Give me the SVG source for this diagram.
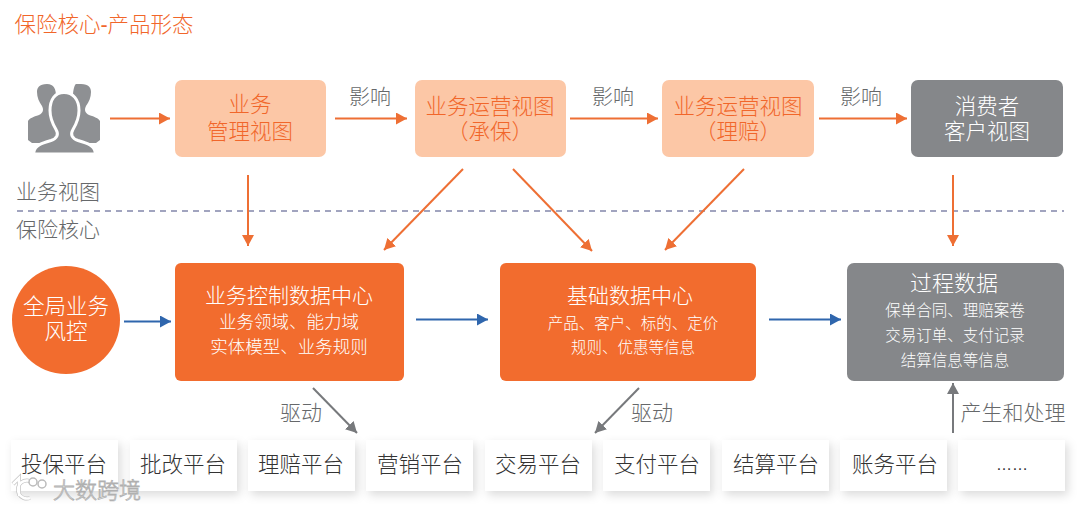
<svg xmlns="http://www.w3.org/2000/svg" width="1080" height="510" viewBox="0 0 1080 510">
<style>
text{font-family:"Liberation Sans","Noto Sans CJK SC",sans-serif;text-anchor:middle;font-weight:300}
.o{fill:#f1662a}.w{fill:#fff}.g{fill:#66686a}.d{fill:#333}
.l{stroke-width:2;fill:none}
.or{stroke:#ee6f34;marker-end:url(#ao)}.bl{stroke:#2f66ad;marker-end:url(#ab)}.gr{stroke:#77797c;marker-end:url(#ag)}
.t{fill:#fff;filter:url(#s)}
</style>
<defs>
<marker id="ao" markerUnits="userSpaceOnUse" markerWidth="12" markerHeight="12" refX="11" refY="6" orient="auto"><path d="M0 0L11 6L0 12Z" fill="#ee6f34"/></marker>
<marker id="ab" markerUnits="userSpaceOnUse" markerWidth="12" markerHeight="12" refX="11" refY="6" orient="auto"><path d="M0 0L11 6L0 12Z" fill="#2f66ad"/></marker>
<marker id="ag" markerUnits="userSpaceOnUse" markerWidth="12" markerHeight="12" refX="11" refY="6" orient="auto"><path d="M0 0L11 6L0 12Z" fill="#77797c"/></marker>
<filter id="s" x="-20%" y="-20%" width="150%" height="150%"><feDropShadow dx="3" dy="4" stdDeviation="5" flood-color="#000" flood-opacity=".14"/></filter>
</defs>
<rect width="1080" height="510" fill="#fff"/>
<text x="104" y="32" font-size="21.500" class="o">保险核心-产品形态</text>
<line x1="17" y1="211" x2="1064" y2="211" stroke="#8387aa" stroke-width="1.600" stroke-dasharray="6 5"/>
<text x="58" y="199" font-size="21" class="g">业务视图</text>
<text x="58" y="237" font-size="21" class="g">保险核心</text>

<g id="connectors">
<path class="l or" d="M110 118.500H170"/>
<path class="l or" d="M335 118.500H407"/>
<path class="l or" d="M570 118.500H658"/>
<path class="l or" d="M819 118.500H907"/>
<path class="l or" d="M248 175V246"/>
<path class="l or" d="M463 169L384 250"/>
<path class="l or" d="M513 169L592 251"/>
<path class="l or" d="M744 169L665 250"/>
<path class="l or" d="M953 175V246"/>
<path class="l bl" d="M124 321.500H171"/>
<path class="l bl" d="M416 319.500H488"/>
<path class="l bl" d="M769 319.500H841"/>
<path class="l gr" d="M313 388L357 433"/>
<path class="l gr" d="M639 388L595 433"/>
<path class="l gr" d="M953 433V383"/>
</g>
<g font-size="21" class="g">
<text x="370" y="104">影响</text><text x="613" y="104">影响</text><text x="861" y="104">影响</text>
<text x="301" y="420">驱动</text><text x="652" y="420">驱动</text><text x="1013" y="420">产生和处理</text>
</g>

<g id="users" fill="#8e9093">
<path d="M47 84c7 0 9 5 9 12c0 8-2 13-5 17c-2 4-1 8 3 10l9 4v16H32l-4-3v-19c2-3 5-4 11-6c4-2 5-5 3-9c-3-4-5-9-5-14c0-4 2-8 10-8Z"/>
<path d="M81 84c8 0 10 4 10 8c0 5-2 10-5 14c-2 4-1 7 3 9c6 2 9 3 11 6v19l-4 3H66v-16l9-4c4-2 5-6 3-10c-3-4-5-9-5-17c0-7 2-12 3-12Z"/>
<path stroke="#fff" stroke-width="3" d="M64 92.500c9 0 15 7 15 18c0 8-3 14-6 19c-3 5-1 9 5 11c10 3 16 5 17 11l1 2.500H33l1-2.500c1-6 7-8 17-11c6-2 8-6 5-11c-3-5-6-11-6-19c0-11 5-18 14-18Z"/>
</g>
<g id="biz-view"><rect x="175" y="80" width="151" height="77" rx="7" fill="#fcc7a6"/><text x="250" y="112" font-size="21.500" class="o">业务</text><text x="250" y="139" font-size="21.500" class="o">管理视图</text></g>
<g id="ops-uw"><rect x="415" y="80" width="151" height="77" rx="7" fill="#fcc7a6"/><text x="490" y="114" font-size="21.500" class="o">业务运营视图</text><text x="490" y="139" font-size="21.500" class="o">（承保）</text></g>
<g id="ops-claim"><rect x="662" y="80" width="152" height="77" rx="7" fill="#fcc7a6"/><text x="738" y="114" font-size="21.500" class="o">业务运营视图</text><text x="738" y="139" font-size="21.500" class="o">（理赔）</text></g>
<g id="consumer"><rect x="911" y="80" width="152" height="77" rx="7" fill="#85878a"/><text x="987" y="114" font-size="21.500" class="w">消费者</text><text x="987" y="139" font-size="21.500" class="w">客户视图</text></g>

<g id="risk"><circle cx="66" cy="320" r="54" fill="#f26c2e"/><text x="66" y="314" font-size="21.500" class="w">全局业务</text><text x="66" y="339" font-size="21.500" class="w">风控</text></g>
<g id="control"><rect x="175" y="263" width="229" height="118" rx="6" fill="#f26c2e"/><text x="289" y="303" font-size="21" class="w">业务控制数据中心</text><text x="289" y="328" font-size="17.500" class="w">业务领域、能力域</text><text x="289" y="353" font-size="17.500" class="w">实体模型、业务规则</text></g>
<g id="base"><rect x="500" y="263" width="256" height="118" rx="6" fill="#f26c2e"/><text x="630" y="303" font-size="21" class="w">基础数据中心</text><text x="633" y="329" font-size="15.500" class="w">产品、客户、标的、定价</text><text x="633" y="353" font-size="15.500" class="w">规则、优惠等信息</text></g>
<g id="process"><rect x="847" y="263" width="217" height="118" rx="7" fill="#85878a"/><text x="954" y="291" font-size="22" class="w">过程数据</text><text x="955" y="316" font-size="15.500" class="w">保单合同、理赔案卷</text><text x="955" y="341" font-size="15.500" class="w">交易订单、支付记录</text><text x="955" y="366" font-size="15.500" class="w">结算信息等信息</text></g>

<g font-size="21.500" class="d">
<g id="p1"><rect class="t" x="11" y="440" width="107" height="51"/><text x="64" y="472" class="d">投保平台</text></g>
<g id="p2"><rect class="t" x="130" y="440" width="107" height="51"/><text x="183" y="472" class="d">批改平台</text></g>
<g id="p3"><rect class="t" x="248" y="440" width="107" height="51"/><text x="301" y="472" class="d">理赔平台</text></g>
<g id="p4"><rect class="t" x="366" y="440" width="107" height="51"/><text x="420" y="472" class="d">营销平台</text></g>
<g id="p5"><rect class="t" x="485" y="440" width="107" height="51"/><text x="538" y="472" class="d">交易平台</text></g>
<g id="p6"><rect class="t" x="603" y="440" width="107" height="51"/><text x="657" y="472" class="d">支付平台</text></g>
<g id="p7"><rect class="t" x="722" y="440" width="107" height="51"/><text x="776" y="472" class="d">结算平台</text></g>
<g id="p8"><rect class="t" x="840" y="440" width="107" height="51"/><text x="895" y="472" class="d">账务平台</text></g>
<g id="p9"><rect class="t" x="958" y="440" width="107" height="51"/><text x="1012" y="470" font-size="16" class="d">……</text></g>
</g>
<g id="watermark">
<path d="M13 484l6-6v18M33 483a9 9 0 1 0 -3 15" fill="none" stroke="#c4c4c4" stroke-width="4"/>
<path d="M13 484l6-6v18M33 483a9 9 0 1 0 -3 15" fill="none" stroke="#fff" stroke-width="2.500"/>
<circle cx="33" cy="482" r="4" fill="#fff" stroke="#bbb" stroke-width="1.500"/><circle cx="42" cy="484" r="4" fill="#fff" stroke="#bbb" stroke-width="1.500"/>
<text x="97" y="498" font-size="22" fill="#fff" stroke="#b0b0b0" stroke-width=".8">大数跨境</text>
</g>
</svg>
